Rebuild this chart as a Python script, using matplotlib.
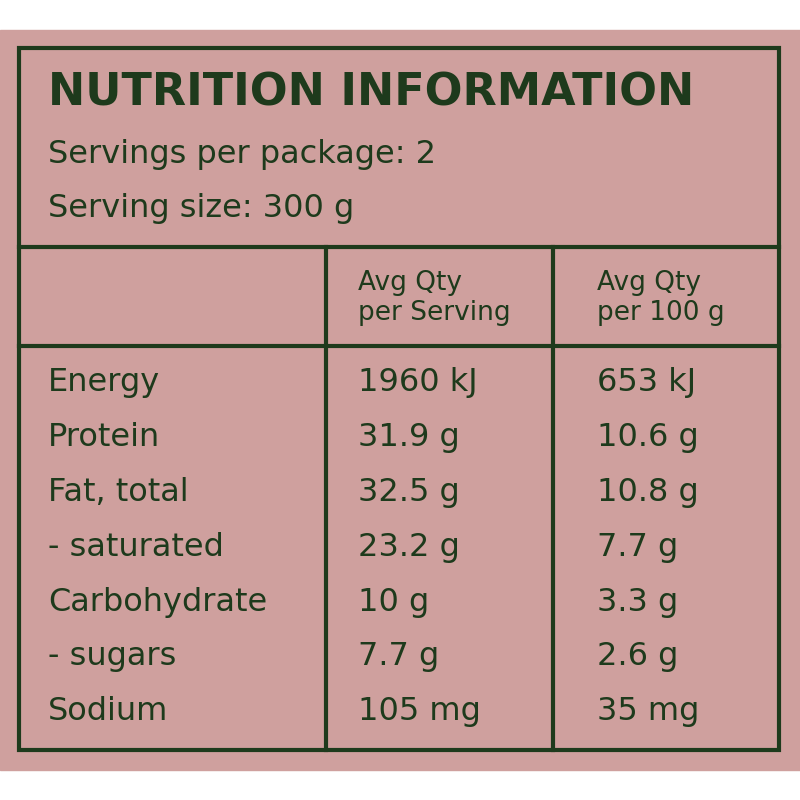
import matplotlib
matplotlib.use("Agg")
import matplotlib.pyplot as plt
from matplotlib.patches import Rectangle

title = "NUTRITION INFORMATION"
servings = "Servings per package: 2"
size = "Serving size: 300 g"
headers = ["Avg Qty\nper Serving", "Avg Qty\nper 100 g"]
nutrients = ["Energy", "Protein", "Fat, total", "- saturated", "Carbohydrate", "- sugars", "Sodium"]
per_serving = ["1960 kJ", "31.9 g", "32.5 g", "23.2 g", "10 g", "7.7 g", "105 mg"]
per_100g = ["653 kJ", "10.6 g", "10.8 g", "7.7 g", "3.3 g", "2.6 g", "35 mg"]

pink = "#cfa09e"
green = "#1e3a1c"
plt.rcParams['font.family'] = ['DejaVu Sans']

fig = plt.figure(figsize=(8, 8), dpi=100)
ax = fig.add_axes([0, 0, 1, 1])
ax.set_xlim(0, 800); ax.set_ylim(800, 0); ax.axis('off')
ax.add_patch(Rectangle((0, 30), 800, 740, color=pink, zorder=0))
ax.add_patch(Rectangle((19, 48), 760, 702, fill=False, ec=green, lw=3))
ax.plot([19, 779], [247, 247], color=green, lw=3)
ax.plot([19, 779], [346, 346], color=green, lw=3)
for x in (326, 553):
    ax.plot([x, x], [247, 750], color=green, lw=3)

ax.text(48, 93, title, fontsize=32, fontweight='bold', color=green, va='center', ha='left')
ax.text(48, 155, servings, fontsize=23, color=green, va='center')
ax.text(48, 208, size, fontsize=23, color=green, va='center')
for x, h in zip((358, 597), headers):
    ax.text(x, 298, h, fontsize=19, color=green, va='center', linespacing=1.25)
for i, (n, a, b) in enumerate(zip(nutrients, per_serving, per_100g)):
    y = 383 + i * 54.8
    ax.text(48, y, n, fontsize=23, color=green, va='center')
    ax.text(358, y, a, fontsize=23, color=green, va='center')
    ax.text(597, y, b, fontsize=23, color=green, va='center')
fig.savefig("out.png", dpi=100)
